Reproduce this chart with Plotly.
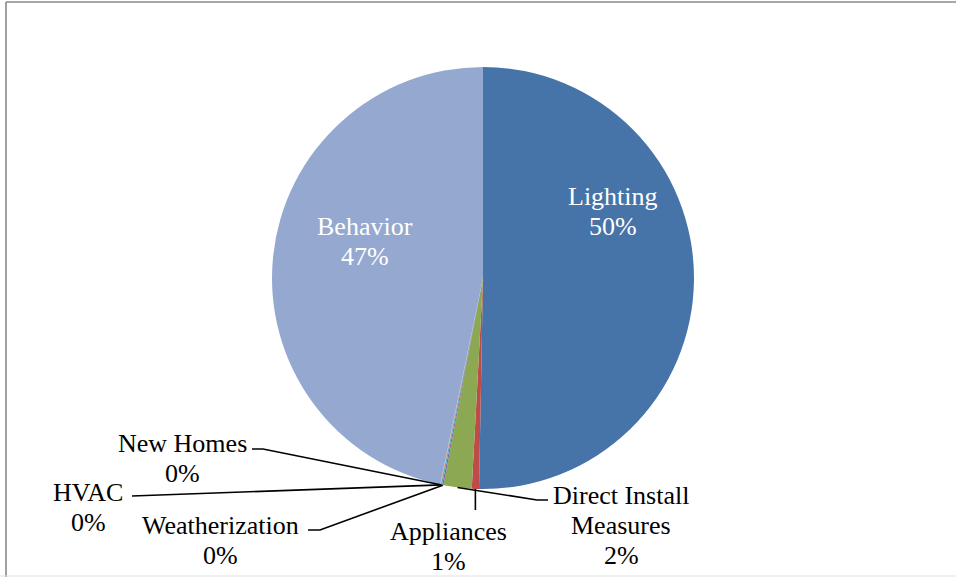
import math
import plotly.graph_objects as go

# Savings share by program category
categories = ["Lighting", "Appliances", "Direct Install Measures", "Weatherization",
              "HVAC", "New Homes", "Behavior"]
savings = [50.3, 0.55, 2.15, 0.1, 0.1, 0.05, 46.75]
colors = ["#4673A8", "#BE4B48", "#8CA853", "#7D60A0", "#4BACC6", "#F79646", "#95A9D0"]

W, H = 956, 577
CX, CY, R = 483, 278, 211  # pie centre and radius in pixels


def px(x):
    return x / W


def py(y):
    return 1 - y / H


total = sum(savings)
shares = [v / total for v in savings]
pct_text = [f"{round(s * 100)}%" for s in shares]

fig = go.Figure(go.Pie(
    labels=categories,
    values=savings,
    sort=False,
    direction="clockwise",
    rotation=0,
    marker=dict(colors=colors, line=dict(width=0)),
    textinfo="none",
    hoverinfo="label+percent",
    showlegend=False,
    domain=dict(x=[px(CX - R), px(CX + R)], y=[py(CY + R), py(CY - R)]),
))


def anchor(i):
    """Point on the rim at the middle of slice i (clockwise from 12 o'clock)."""
    start = sum(shares[:i])
    mid = (start + shares[i] / 2) * 2 * math.pi
    return CX + R * math.sin(mid), CY - R * math.cos(mid)


# label block centres (pixels) and leader-line elbows
label_pos = {
    "Lighting": (613, 211, "white"),
    "Behavior": (365, 241, "white"),
    "New Homes": (182, 458, "black"),
    "HVAC": (88, 507, "black"),
    "Weatherization": (220, 540, "black"),
    "Appliances": (448, 546, "black"),
    "Direct Install Measures": (621, 525, "black"),
}
display_names = {"Direct Install Measures": ["Direct Install", "Measures"]}
leaders = {
    "New Homes": [(263, 449), (252, 449)],
    "HVAC": [(132, 496)],
    "Weatherization": [(320, 530), (308, 530)],
    "Appliances": None,  # straight down from the slice
    "Direct Install Measures": [(537, 500), (548, 500)],
}

LINE_H = 30
annotations = []
for i, name in enumerate(categories):
    cx, cy, col = label_pos[name]
    lines = display_names.get(name, [name]) + [pct_text[i]]
    n = len(lines)
    for k, txt in enumerate(lines):
        annotations.append(dict(
            x=px(cx), y=py(cy + (k - (n - 1) / 2) * LINE_H),
            xref="paper", yref="paper", text=txt, showarrow=False,
            xanchor="center", yanchor="middle",
            font=dict(family="Liberation Serif, Times New Roman, serif", size=26, color=col),
        ))

shapes = []
for i, name in enumerate(categories):
    if name not in leaders:
        continue
    ax, ay = anchor(i)
    pts = [(ax, ay)] + (leaders[name] if leaders[name] else [(ax, 510)])
    path = "M " + " L ".join(f"{px(x)},{py(y)}" for x, y in pts)
    shapes.append(dict(type="path", xref="paper", yref="paper", path=path,
                       line=dict(color="black", width=1.6)))

# chart frame
shapes += [
    dict(type="line", xref="paper", yref="paper", x0=px(6), x1=px(6), y0=py(2), y1=py(577),
         line=dict(color="#8A8A8A", width=1.6)),
    dict(type="line", xref="paper", yref="paper", x0=px(6), x1=1, y0=py(2), y1=py(2),
         line=dict(color="#8A8A8A", width=1.6)),
    dict(type="line", xref="paper", yref="paper", x0=0, x1=1, y0=py(576), y1=py(576),
         line=dict(color="#E2E2E2", width=1.2)),
]

fig.update_layout(
    width=W, height=H,
    margin=dict(l=0, r=0, t=0, b=0),
    paper_bgcolor="white", plot_bgcolor="white",
    annotations=annotations, shapes=shapes,
)

fig.write_html("out.html")
